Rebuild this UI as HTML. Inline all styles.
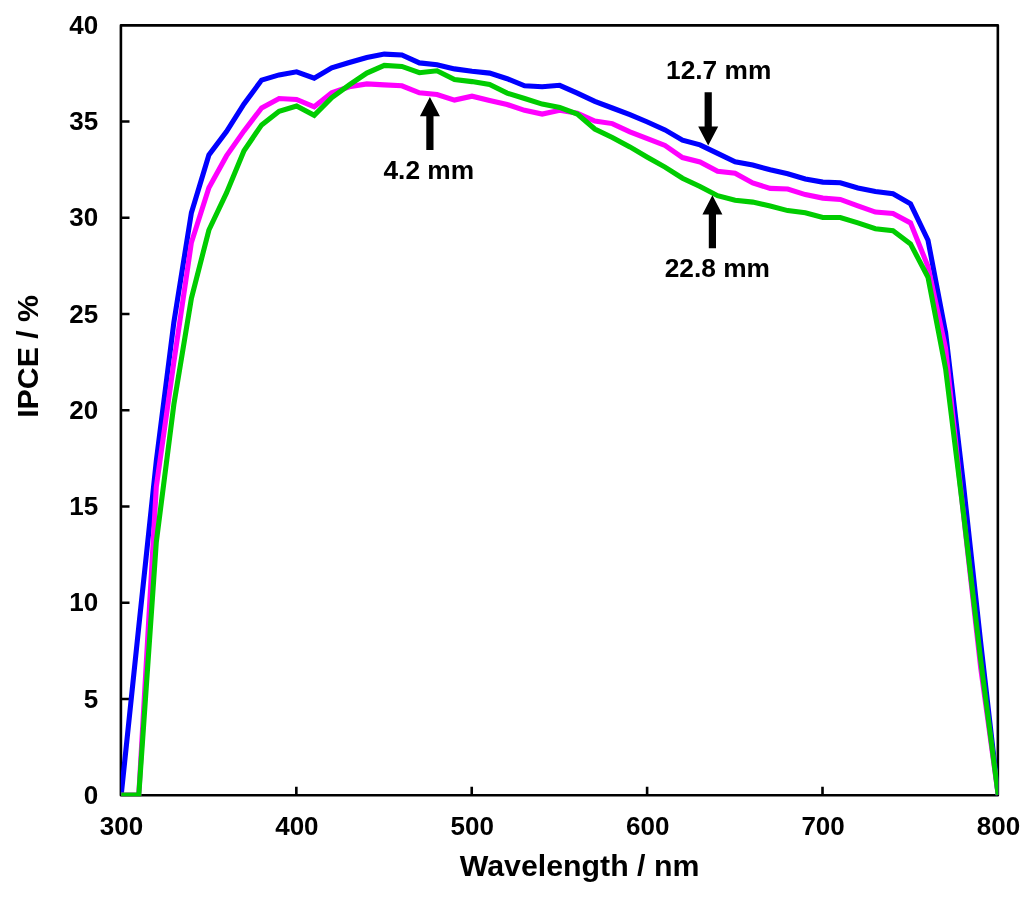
<!DOCTYPE html>
<html lang="en"><head><meta charset="utf-8"><title>IPCE spectra</title>
<style>html,body{margin:0;padding:0;background:#fff}body{width:1024px;height:900px;overflow:hidden}svg{display:block}text{font-family:"Liberation Sans",Arial,Helvetica,sans-serif;font-weight:bold;fill:#000}</style>
</head><body>
<svg width="1024" height="900" viewBox="0 0 1024 900">
<rect x="0" y="0" width="1024" height="900" fill="#fff"/>
<rect x="120.90" y="25.40" width="876.95" height="769.85" fill="none" stroke="#000" stroke-width="2.6" stroke-linejoin="round"/>
<path d="M120.90 698.95h8.6M120.90 602.70h8.6M120.90 506.45h8.6M120.90 410.20h8.6M120.90 313.95h8.6M120.90 217.70h8.6M120.90 121.45h8.6M296.34 795.25v-8.6M471.73 795.25v-8.6M647.12 795.25v-8.6M822.51 795.25v-8.6" stroke="#000" stroke-width="2.6" fill="none"/>
<text x="98.2" y="803.9" font-size="26.0" text-anchor="end">0</text>
<text x="98.2" y="707.6" font-size="26.0" text-anchor="end">5</text>
<text x="98.2" y="611.4" font-size="26.0" text-anchor="end">10</text>
<text x="98.2" y="515.1" font-size="26.0" text-anchor="end">15</text>
<text x="98.2" y="418.9" font-size="26.0" text-anchor="end">20</text>
<text x="98.2" y="322.6" font-size="26.0" text-anchor="end">25</text>
<text x="98.2" y="226.4" font-size="26.0" text-anchor="end">30</text>
<text x="98.2" y="130.2" font-size="26.0" text-anchor="end">35</text>
<text x="98.2" y="33.9" font-size="26.0" text-anchor="end">40</text>
<text x="121.5" y="835.2" font-size="26.0" text-anchor="middle">300</text>
<text x="296.9" y="835.2" font-size="26.0" text-anchor="middle">400</text>
<text x="472.3" y="835.2" font-size="26.0" text-anchor="middle">500</text>
<text x="647.7" y="835.2" font-size="26.0" text-anchor="middle">600</text>
<text x="823.1" y="835.2" font-size="26.0" text-anchor="middle">700</text>
<text x="998.5" y="835.2" font-size="26.0" text-anchor="middle">800</text>
<text x="579.6" y="876" font-size="30.3" text-anchor="middle">Wavelength / nm</text>
<text transform="translate(38.2 356.4) rotate(-90)" font-size="30.3" text-anchor="middle">IPCE / %</text>
<clipPath id="pc"><rect x="120.80" y="0" width="877.55" height="796.60"/></clipPath><g clip-path="url(#pc)">
<polyline points="121.2,795.0 138.8,626.6 156.3,461.0 173.9,322.0 191.4,212.7 208.9,154.9 226.5,131.6 244.0,103.9 261.6,80.1 279.1,74.9 296.6,71.8 314.2,78.1 331.7,67.9 349.3,62.5 366.8,57.5 384.3,54.1 401.9,55.0 419.4,62.9 437.0,64.7 454.5,68.9 472.0,71.2 489.6,73.1 507.1,78.7 524.6,85.8 542.2,86.8 559.7,85.3 577.3,93.1 594.8,101.4 612.3,108.0 629.9,114.7 647.4,122.0 665.0,129.9 682.5,140.1 700.0,144.9 717.6,153.4 735.1,161.7 752.7,165.1 770.2,169.8 787.7,173.8 805.3,179.0 822.8,182.1 840.3,182.7 857.9,188.0 875.4,191.5 893.0,193.8 910.5,203.8 928.0,240.2 945.6,332.6 963.1,481.2 980.7,642.9 998.2,795.0" fill="none" stroke="#0000ff" stroke-width="5.1" stroke-linejoin="miter" stroke-linecap="butt"/>
<polyline points="121.2,795.0 138.8,795.0 156.3,487.0 173.9,361.9 191.4,242.5 208.9,187.7 226.5,155.9 244.0,130.9 261.6,108.0 279.1,98.5 296.6,99.5 314.2,106.8 331.7,92.8 349.3,86.8 366.8,83.9 384.3,84.9 401.9,85.8 419.4,92.8 437.0,94.5 454.5,100.1 472.0,96.2 489.6,100.5 507.1,104.5 524.6,110.3 542.2,114.1 559.7,110.3 577.3,113.2 594.8,121.1 612.3,123.6 629.9,131.8 647.4,138.6 665.0,145.5 682.5,157.6 700.0,161.9 717.6,171.3 735.1,173.2 752.7,183.0 770.2,188.4 787.7,189.0 805.3,194.6 822.8,198.1 840.3,199.4 857.9,205.8 875.4,212.1 893.0,213.5 910.5,222.9 928.0,266.6 945.6,348.4 963.1,511.1 980.7,668.0 998.2,795.0" fill="none" stroke="#ff00ff" stroke-width="5.1" stroke-linejoin="miter" stroke-linecap="butt"/>
<polyline points="121.2,795.0 138.8,795.0 156.3,542.1 173.9,404.2 191.4,298.4 208.9,230.0 226.5,192.9 244.0,150.7 261.6,124.9 279.1,111.2 296.6,106.0 314.2,115.3 331.7,97.6 349.3,84.9 366.8,73.1 384.3,65.4 401.9,66.4 419.4,72.7 437.0,70.8 454.5,79.5 472.0,81.6 489.6,84.5 507.1,93.1 524.6,98.5 542.2,104.1 559.7,107.4 577.3,114.1 594.8,129.0 612.3,137.4 629.9,146.9 647.4,157.2 665.0,167.1 682.5,178.2 700.0,186.5 717.6,195.7 735.1,200.2 752.7,202.1 770.2,206.1 787.7,210.6 805.3,212.7 822.8,217.5 840.3,217.5 857.9,222.9 875.4,228.7 893.0,230.6 910.5,243.9 928.0,277.2 945.6,368.8 963.1,510.1 980.7,660.2 998.2,795.0" fill="none" stroke="#00cc00" stroke-width="5.1" stroke-linejoin="miter" stroke-linecap="butt"/>
</g>
<path d="M429.9 96.9L439.9 116.2H433.5V149.9H426.3V116.2H419.9Z" fill="#000"/>
<path d="M708.2 145.6L718.2 126.6H711.8V92.2H704.6V126.6H698.2Z" fill="#000"/>
<path d="M712.4 195.2L722.4 214.4H716.0V248.3H708.8V214.4H702.4Z" fill="#000"/>
<text x="428.8" y="178.7" font-size="26.3" text-anchor="middle">4.2 mm</text>
<text x="718.7" y="78.6" font-size="26.3" text-anchor="middle">12.7 mm</text>
<text x="717.3" y="276.9" font-size="26.3" text-anchor="middle">22.8 mm</text>
</svg></body></html>
